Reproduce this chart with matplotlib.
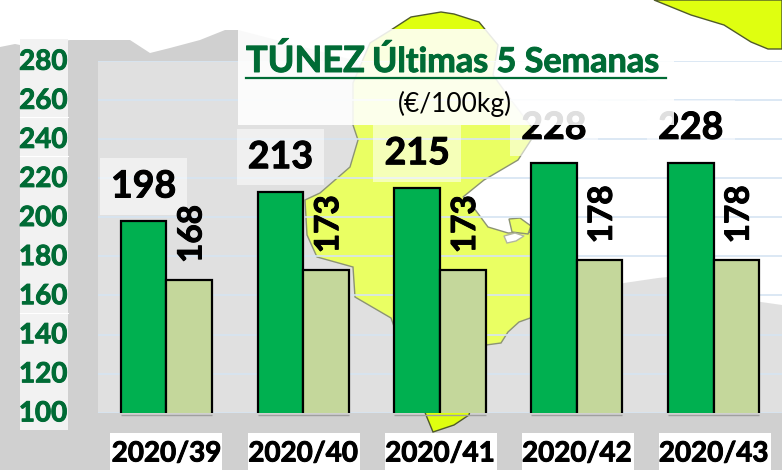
import matplotlib
matplotlib.use("Agg")
import numpy as np
import matplotlib.pyplot as plt
import matplotlib.patheffects as pe
from matplotlib.patches import Polygon, Rectangle
from matplotlib.transforms import ScaledTranslation

plt.rcParams["font.family"] = ["Lato", "DejaVu Sans"]

# chart data
weeks = ["2020/39", "2020/40", "2020/41", "2020/42", "2020/43"]
green_values = [198, 213, 215, 228, 228]
light_values = [168, 173, 173, 178, 178]
y_ticks = [100, 120, 140, 160, 180, 200, 220, 240, 260, 280]

# background map outlines, traced in picture pixels
land_grey = [(0, 47), (15, 44), (30, 47), (70, 40), (130, 40), (150, 53), (170, 48), (200, 40),
             (225, 30), (238, 30), (353, 60), (400, 100), (500, 320), (531, 317), (578, 300),
             (624, 283), (658, 278), (668, 277), (761, 302), (782, 305), (782, 470), (0, 470)]
land_tunisia = [(479, 22), (498, 45), (493, 75), (511, 100), (534, 130), (531, 140), (518, 160),
                (484, 180), (463, 197), (468, 200), (488, 227), (508, 233), (533, 232), (533, 317),
                (519, 322), (508, 332), (501, 343), (486, 345), (469, 415), (454, 425), (433, 432),
                (426, 415), (391, 318), (355, 297), (353, 267), (317, 257), (307, 235), (305, 200),
                (320, 193), (350, 167), (358, 140), (353, 125), (353, 83), (370, 43), (391, 30),
                (411, 17), (441, 12), (454, 14)]
land_sicily = [(654, 0), (691, 15), (724, 25), (751, 42), (768, 49), (782, 49), (782, 0)]
island = [(509, 219), (520, 218), (531, 226), (528, 234), (512, 232)]
lake = [(504, 236), (515, 233), (524, 236), (516, 241), (507, 243)]

GREEN_TEXT = "#006b35"


def heavy(color, width=0.7):
    # Lato bold is a little lighter than the font in the picture
    return [pe.withStroke(linewidth=width, foreground=color)]


fig = plt.figure(figsize=(7.82, 4.7), dpi=100)

# map behind everything
bg = fig.add_axes([0, 0, 1, 1], zorder=0)
bg.set_xlim(0, 782)
bg.set_ylim(470, 0)
bg.axis("off")
bg.add_patch(Polygon(land_grey, facecolor="#d0d0d0", edgecolor="none"))
for shape in [land_tunisia, land_sicily, island]:
    bg.add_patch(Polygon(shape, facecolor="#dfff10", edgecolor="#4f5a2a", linewidth=1))
bg.add_patch(Polygon(lake, facecolor="white", edgecolor="#8a8f70", linewidth=1))
bg.add_patch(Rectangle((20, 39), 48, 391, facecolor="#f2f2f2", edgecolor="none"))
for y in [117, 156, 313]:
    bg.plot([20, 68], [y, y], color="white", lw=0.8)
for left in [110, 248, 385, 522, 659]:
    bg.add_patch(Rectangle((left, 433), 112, 37, facecolor="white", edgecolor="none"))

# the chart itself
ax = fig.add_axes([98 / 782, (470 - 412.7) / 470, 684 / 782, 351.7 / 470], zorder=1)
ax.patch.set_facecolor((1, 1, 1, 0.35))
x = np.arange(len(weeks))
w = 1 / 3
ax.bar(x - w / 2, green_values, w, color="#00b050", edgecolor="black", linewidth=1.6, zorder=3)
ax.bar(x + w / 2, light_values, w, color="#c4d79b", edgecolor="black", linewidth=1.6, zorder=3)
ax.set_xlim(-0.5, 4.5)
ax.set_ylim(100, 280)
ax.set_yticks(y_ticks)
ax.set_xticks(x)
ax.set_xticklabels(weeks)
ax.tick_params(axis="y", length=0, pad=22, labelsize=20, labelcolor=GREEN_TEXT)
ax.tick_params(axis="x", length=0, pad=20, labelsize=20, labelcolor="black")
shift_up = ScaledTranslation(0, 1.3 / 72, fig.dpi_scale_trans)
for lab in ax.get_yticklabels():
    lab.set_fontweight("bold")
    lab.set_path_effects(heavy(GREEN_TEXT))
    lab.set_transform(lab.get_transform() + shift_up)
for lab in ax.get_xticklabels():
    lab.set_fontweight("bold")
    lab.set_path_effects(heavy("black"))
ax.grid(axis="y", color="#d6e4f2", linewidth=1.2, zorder=1)
ax.set_axisbelow(True)
for s in ax.spines.values():
    s.set_visible(False)
ax.hlines([99] * len(x), x - w, x + w, color="#a0a0a0", lw=1, clip_on=False, zorder=2)

for i in x:
    ax.annotate(str(green_values[i]), (i - w / 2, green_values[i]), xytext=(0, 25),
                textcoords="offset points", ha="center", va="center", fontsize=27,
                fontweight="bold", color="black", zorder=5, path_effects=heavy("black"),
                bbox=dict(boxstyle="square,pad=0.3", facecolor="white", edgecolor="none", alpha=0.55))
    ax.annotate(str(light_values[i]), (i + w / 2, light_values[i]), xytext=(2, 33),
                textcoords="offset points", ha="center", va="center", rotation=90,
                fontsize=24, fontweight="bold", color="black", zorder=5, path_effects=heavy("black"))

# title box sits over the value labels
front = fig.add_axes([0, 0, 1, 1], zorder=2)
front.set_xlim(0, 782)
front.set_ylim(470, 0)
front.axis("off")
front.add_patch(Rectangle((238, 29), 436, 96, facecolor="white", edgecolor="none", alpha=0.88))
front.text(246, 72, "TÚNEZ", fontsize=26, fontweight="bold", color=GREEN_TEXT, ha="left", va="baseline",
           path_effects=heavy(GREEN_TEXT))
front.text(372, 72, "Últimas 5 Semanas", fontsize=24.6, fontweight="bold", color=GREEN_TEXT,
           ha="left", va="baseline", path_effects=heavy(GREEN_TEXT))
front.plot([246, 666], [78, 78], color=GREEN_TEXT, lw=1.6)
front.text(455, 104, "(€/100kg)", fontsize=19, color="black", ha="center", va="center")

fig.savefig("out.png", dpi=100)
